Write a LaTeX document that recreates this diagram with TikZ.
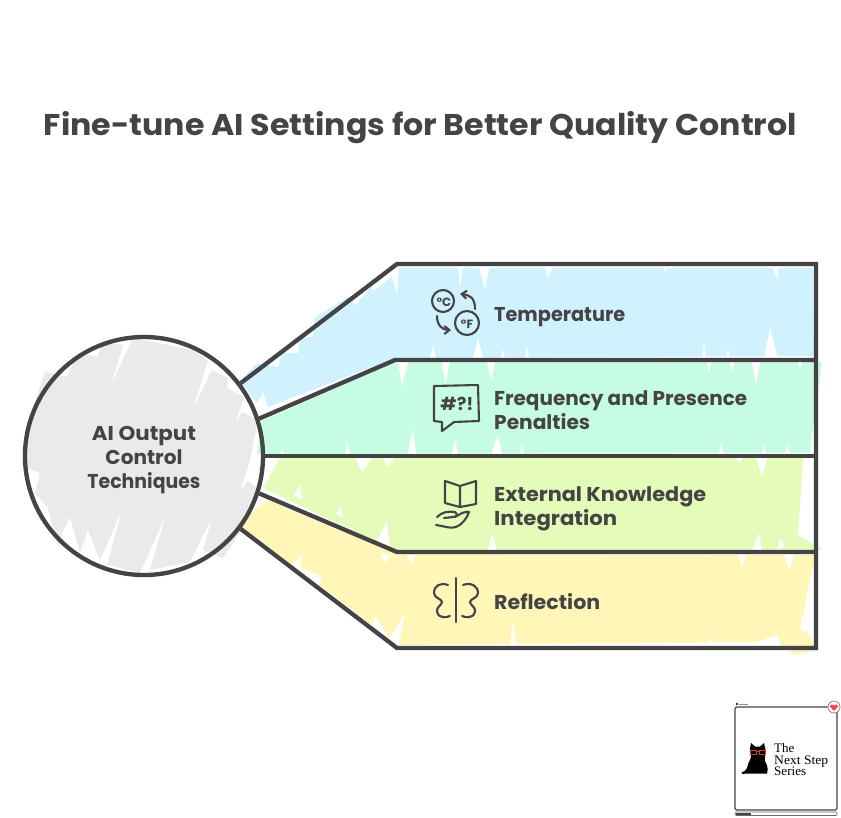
\documentclass[tikz,border=0pt]{standalone}
\usepackage{graphicx}
\usepackage{fontspec}
\setmainfont{Poppins}[BoldFont={Poppins Bold}]
\newfontfamily\logofont{Liberation Serif}
\definecolor{ink}{HTML}{444444}
\definecolor{bandblue}{HTML}{D0F2FF}
\definecolor{bandgreen}{HTML}{C6FCE3}
\definecolor{bandlime}{HTML}{E4FBB9}
\definecolor{bandyellow}{HTML}{FFF6B8}
\definecolor{hubgray}{HTML}{EAEAEA}
\definecolor{catred}{HTML}{D9401A}
\newcommand{\fitw}[2]{\resizebox{#1pt}{\height}{#2}}
\newcommand{\spikes}[1]{\foreach \ax/\ay/\bx/\by/\cx/\cy in {#1} {\fill[white] (\ax,\ay)--(\bx,\by)--(\cx,\cy)--cycle;}}
\usetikzlibrary{arrows.meta}
\tikzset{
 x=1pt,y=-1pt,
 outline/.style={draw=ink,line width=4.3pt,line join=miter},
 icon/.style={draw=ink,line width=2.1pt,line cap=round,line join=round},
 arrowicon/.style={icon,-{Straight Barb[length=5pt,width=8pt]}},
 lab/.style={font=\fontsize{20}{24}\selectfont\bfseries,text=ink,inner sep=0pt,align=left,anchor=west},
 hubstyle/.style={circle,outline,minimum size=238pt,inner sep=0pt},
}
\begin{document}
\begin{tikzpicture}
\useasboundingbox (0,0) rectangle (841,817);
\fill[white] (0,0) rectangle (841,817);
% band fills
\fill[bandblue] (240,381)--(257,363)--(278,367)--(282,353)--(298,353)--(300,338)--(313,337)--(314,318)--(350,296)--(355,306)--(372,286)--(372,292)--(392,277)--(397,295)--(399,268)--(813,268)--(814,356)--(395,358)--(268,407)--(263,392)--(257,403)--cycle;
\fill[bandgreen] (262,421)--(395,362)--(815,362)--(822,362)--(810,450)--(810,453)--(257,454)--cycle;
\fill[bandlime] (280,458)--(803,458)--(798,535)--(822,549)--(812,553)--(397,551)--(263,488)--cycle;
\fill[bandyellow] (242,510)--(250,513)--(267,500)--(285,508)--(397,554)--(815,555)--(800,630)--(807,632)--(817,650)--(795,655)--(780,645)--(778,635)--(755,642)--(399,645)--(405,613)--(390,638)--(375,615)--(372,625)--(320,585)--(321,576)--(300,567)--(302,553)--(292,565)--(260,540)--(243,528)--cycle;
\spikes{458/264/463/264/460/288, 478/264/490/264/485/290, 662/264/668/264/665/272, 772/266/778/266/778/281,
 430/358/436/358/433/345, 473/358/483/358/478/338, 501/358/505/358/503/349, 525/358/529/358/527/345,
 702/358/706/358/704/342, 726/358/730/358/728/348, 764/358/778/358/770/328, 545/268/552/268/548/278,
 442/362/450/362/445/385, 487/362/495/362/491/380, 398/362/408/362/402/387, 707/362/711/362/709/373, 730/362/734/362/732/373, 752/362/760/362/756/385, 798/362/802/362/800/371,
 452/454/458/454/455/438, 491/454/502/454/498/435, 520/454/524/454/522/443, 345/454/350/454/347/440, 408/454/416/454/413/428, 280/454/285/454/282/450, 719/454/723/454/721/441, 762/454/766/454/764/443, 785/454/790/454/787/445,
 735/458/742/458/740/463, 756/458/767/458/762/477, 355/458/372/458/362/472, 383/458/394/458/388/467,
 488/550/497/550/492/533, 752/550/762/550/759/533, 777/550/785/546/780/539, 294/495/302/499/300/485, 336/514/343/518/340/506, 377/540/390/549/387/522,
 738/555/746/555/742/567, 784/555/794/555/789/570, 380/553/390/555/385/563, 407/555/415/555/411/564, 510/646/516/646/513/620, 706/646/712/646/710/637}
% hub hatch
\fill[hubgray] (45,372)--(67,377)--(78,353)--(98,357)--(102,343)--(123,345)--(111,385)--(133,338)--(193,350)--(208,360)--(193,409)--(212,370)--(228,378)--(227,388)--(244,397)--(235,423)--(242,412)--(258,420)--(250,460)--(240,492)--(247,481)--(260,490)--(240,533)--(223,558)--(203,550)--(212,518)--(190,562)--(150,570)--(165,517)--(140,573)--(107,565)--(122,510)--(100,560)--(88,530)--(80,553)--(70,517)--(62,533)--(58,547)--(48,508)--(35,493)--(40,473)--(27,467)--(25,430)--cycle;
% hub and band outlines
\node[hubstyle] (hub) at (144,456) {};
\node[lab,anchor=center,align=center] (hublabel) at (144,460) {\fitw{104}{AI Output}\\\fitw{77}{Control}\\\fitw{113}{Techniques}};
\coordinate (topbend) at (397,264);
\coordinate (topright) at (816,264);
\coordinate (botright) at (816,648);
\coordinate (botbend) at (397,648);
\coordinate (midA) at (395,360);
\coordinate (midAr) at (816,360);
\coordinate (midB) at (816,456);
\coordinate (midC) at (397,552);
\coordinate (midCr) at (816,552);
\draw[outline] (hub.37)--(topbend)--(topright)--(botright)--(botbend)--(hub.-37);
\draw[outline] (hub.18)--(midA)--(midAr);
\draw[outline] (hub.0)--(midB);
\draw[outline] (hub.-18)--(midC)--(midCr);
% title
\node[lab,font=\fontsize{30}{36}\selectfont\bfseries,anchor=center] (title) at (420.5,128) {\fitw{753}{Fine-tune AI Settings for Better Quality Control}};
% labels
\node[lab] (l1) at (494,317) {\fitw{131}{Temperature}};
\node[lab] (l2) at (494,410) {\fitw{253}{Frequency and Presence}\\\fitw{96}{Penalties}};
\node[lab] (l3) at (494,509) {\fitw{212}{External Knowledge}\\\fitw{123}{Integration}};
\node[lab] (l4) at (494,602) {\fitw{106}{Reflection}};
% temperature icon
\draw[icon] (443,301) circle[radius=11pt];
\draw[icon] (467,323) circle[radius=12pt];
\node[inner sep=0pt,text=ink,font=\fontsize{12}{12}\selectfont\bfseries] (cdeg) at (444,302) {°C};
\node[inner sep=0pt,text=ink,font=\fontsize{12}{12}\selectfont\bfseries] (fdeg) at (467,324) {°F};
\draw[arrowicon] (475,309) .. controls (475,298) and (470,295) .. (460,294);
\draw[arrowicon] (437,316) .. controls (437,325) and (442,330) .. (451,330);
% chat icon
\draw[icon] (434,386)--(478,385)--(479,421)--(454,422)--(442,431)--(442,422)--(434,421)--cycle;
\node[inner sep=0pt,text=ink,font=\fontsize{18}{18}\selectfont\bfseries] (hash) at (457,404) {\#?!};
% book and hand icon
\draw[icon] (460,486)--(445,481)--(445,503)--(460,507)--(476,504)--(476,481)--(460,486)--(460,507);
\draw[icon] (437,517) .. controls (442,512) and (448,511) .. (455,512) .. controls (458,514) and (457,517) .. (453,517) -- (444,518);
\draw[icon] (436,525) .. controls (444,526) and (450,529) .. (456,527) .. controls (462,525) and (467,518) .. (469,512) .. controls (465,511) and (460,514) .. (455,517);
% butterfly icon
\draw[icon] (456,578)--(456,622);
\draw[icon] (448,585) .. controls (440,582) and (434,586) .. (434,593) .. controls (434,598) and (442,599) .. (442,602) .. controls (442,605) and (436,607) .. (437,612) .. controls (438,618) and (446,618) .. (450,616);
\draw[icon] (463,585) .. controls (471,582) and (478,586) .. (478,593) .. controls (478,598) and (470,599) .. (470,602) .. controls (470,605) and (476,607) .. (475,612) .. controls (474,618) and (466,618) .. (462,616);
% logo card
\draw[draw=ink,line width=1.3pt,rounded corners=1.5pt] (735,707) rectangle (837,810);
\fill[red!80!black] (736,703) rectangle (738,705);
\fill[ink!60] (738.5,703.5) rectangle (748,704.8);
\draw[draw=ink!70,line width=.7pt,fill=white] (834,707) circle[radius=6pt];
\fill[red!75] (834,711)--(830,706.5) arc[start angle=180,end angle=0,radius=2pt] arc[start angle=180,end angle=0,radius=2pt]--cycle;
\draw[draw=ink!80,line width=.7pt,rounded corners=1pt] (735,812) rectangle (837,815.5);
\fill[ink] (735.5,812.5) rectangle (751,815);
\fill[black] (751,743)--(755,746.5)--(760,746.5)--(764,743)--(766,752) .. controls (765,757) and (764,758) .. (765,761) .. controls (768,766) and (768,770) .. (767,773.5)--(747,773.5)--(742,774) .. controls (740,771) and (745,773) .. (747,768) .. controls (748,762) and (751,760) .. (751,756) .. controls (749,752) and (750,748) .. (751,743)--cycle;
\draw[draw=catred,line width=1pt] (750.5,750) rectangle (756,754) (759,750) rectangle (765,754) (756,751)--(759,751);
\node[inner sep=0pt,anchor=west,font=\fontsize{13}{11.5}\selectfont\logofont,align=left,text=black] (logo) at (774,760) {The\\\resizebox{54pt}{\height}{Next Step}\\\resizebox{32pt}{\height}{Series}};
\end{tikzpicture}
\end{document}
